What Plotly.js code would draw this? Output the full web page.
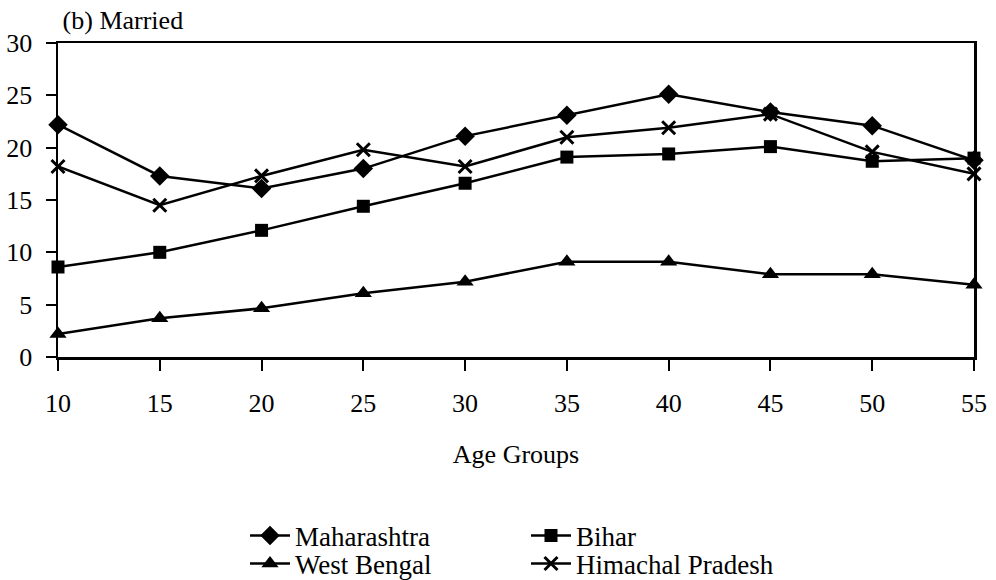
<!DOCTYPE html>
<html>
<head>
<meta charset="utf-8">
<script src="https://cdn.plot.ly/plotly-3.0.1.min.js"></script>
<style>html,body{margin:0;padding:0;background:#fff;}#chart{width:996px;height:580px;}</style>
</head>
<body>
<div id="chart"></div>
<script>
const ageGroups = [10, 15, 20, 25, 30, 35, 40, 45, 50, 55];
const maharashtra = [22.2, 17.3, 16.1, 18.0, 21.1, 23.1, 25.1, 23.4, 22.1, 18.8];
const bihar = [8.6, 10.0, 12.1, 14.4, 16.6, 19.1, 19.4, 20.1, 18.7, 19.0];
const westBengal = [2.2, 3.7, 4.65, 6.1, 7.2, 9.1, 9.1, 7.9, 7.9, 6.9];
const himachal = [18.2, 14.5, 17.3, 19.8, 18.2, 21.0, 21.9, 23.2, 19.6, 17.5];
const yTicks = [0, 5, 10, 15, 20, 25, 30];

const FONT = '"Liberation Serif", "Times New Roman", Times, serif';
const lineStyle = {color: '#000', width: 2.5};

function tr(name, y, symbol, size, legend) {
  return {
    type: 'scatter', mode: 'lines+markers', name: name,
    x: ageGroups, y: y, legend: legend,
    line: lineStyle,
    marker: {symbol: symbol, size: size, color: '#000', line: {color: '#000', width: symbol === 'x-thin' ? 3 : 0}},
    cliponaxis: false
  };
}

const data = [
  tr('Maharashtra', maharashtra, 'diamond', 15, 'legend'),
  tr('Bihar', bihar, 'square', 13, 'legend'),
  tr('West Bengal', westBengal, 'triangle-up', 15, 'legend2'),
  tr('Himachal Pradesh', himachal, 'x-thin', 13, 'legend2')
];

const legendCommon = {
  orientation: 'h', xref: 'container', yref: 'container',
  xanchor: 'left', yanchor: 'middle',
  font: {family: FONT, size: 27, color: '#000'},
  entrywidth: 226, entrywidthmode: 'pixels',
  bgcolor: 'rgba(0,0,0,0)', borderwidth: 0, itemwidth: 40, tracegroupgap: 0
};

const layout = {
  width: 996, height: 580,
  paper_bgcolor: '#fff', plot_bgcolor: '#fff',
  margin: {l: 58, r: 22, t: 43, b: 223},
  font: {family: FONT, size: 26, color: '#000'},
  title: {text: '(b) Married', font: {family: FONT, size: 26, color: '#000'},
          xref: 'paper', x: 0.005, xanchor: 'left', yref: 'container', y: 1 - 20/580, yanchor: 'middle'},
  showlegend: true,
  legend: Object.assign({}, legendCommon, {x: 245/996, y: 1 - 536/580}),
  legend2: Object.assign({}, legendCommon, {x: 245/996, y: 1 - 564/580}),
  xaxis: {
    range: [10, 55], tickvals: ageGroups, ticktext: ageGroups.map(String),
    showgrid: false, zeroline: false,
    showline: true, linecolor: '#000', linewidth: 2.5, mirror: true,
    ticks: 'outside', ticklen: 11, tickwidth: 2, tickcolor: '#000',
    ticklabelstandoff: 10,
    tickfont: {family: FONT, size: 26, color: '#000'},
    title: {text: 'Age Groups', font: {family: FONT, size: 26, color: '#000'}, standoff: 28}
  },
  xaxis2: {
    overlaying: 'x', anchor: 'y', side: 'bottom', range: [10, 55], tickvals: ageGroups,
    showgrid: false, zeroline: false, showline: false, showticklabels: false,
    ticks: 'inside', ticklen: 10, tickwidth: 2, tickcolor: '#000'
  },
  yaxis: {
    range: [0, 30], tickvals: yTicks, ticktext: yTicks.map(String),
    showgrid: false, zeroline: false,
    showline: true, linecolor: '#000', linewidth: 2.5, mirror: true,
    ticks: 'outside', ticklen: 10, tickwidth: 2, tickcolor: '#000',
    ticklabelstandoff: 8,
    tickfont: {family: FONT, size: 26, color: '#000'}
  },
  yaxis2: {
    overlaying: 'y', anchor: 'x', side: 'left', range: [0, 30], tickvals: yTicks,
    showgrid: false, zeroline: false, showline: false, showticklabels: false,
    ticks: 'inside', ticklen: 4, tickwidth: 2, tickcolor: '#000'
  }
};

Plotly.newPlot('chart', data, layout, {displayModeBar: false, staticPlot: true});
</script>
</body>
</html>
